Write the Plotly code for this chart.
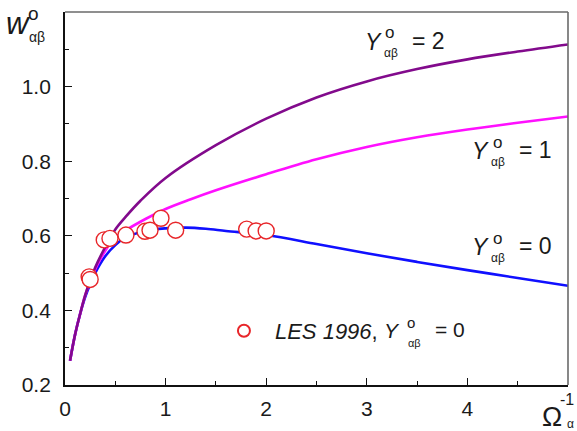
import plotly.graph_objects as go

# Interaction-parameter curves: w°_αβ versus Ω_α^-1 for three values of Y°_αβ
omega_inv_y2 = [0.05, 0.1, 0.15, 0.2, 0.25, 0.3, 0.4, 0.5, 0.6, 0.75, 1.0, 1.5,
                2.0, 2.5, 3.0, 3.5, 4.0, 4.5, 5.0]
w_y2 = [0.265, 0.335, 0.39, 0.44, 0.48, 0.515, 0.57, 0.617, 0.65, 0.694, 0.755,
        0.843, 0.914, 0.971, 1.014, 1.047, 1.073, 1.094, 1.113]

omega_inv_y1 = [0.05, 0.1, 0.15, 0.2, 0.25, 0.3, 0.4, 0.5, 0.6, 0.8, 1.0, 1.25,
                1.5, 2.0, 2.5, 3.0, 3.5, 4.0, 4.5, 5.0]
w_y1 = [0.265, 0.335, 0.39, 0.44, 0.478, 0.51, 0.56, 0.595, 0.614, 0.645, 0.672,
        0.698, 0.722, 0.765, 0.805, 0.838, 0.864, 0.885, 0.903, 0.92]

omega_inv_y0 = [0.05, 0.1, 0.15, 0.2, 0.25, 0.3, 0.4, 0.5, 0.6, 0.8, 1.0, 1.2,
                1.4, 1.6, 2.0, 2.5, 3.0, 3.5, 4.0, 4.5, 5.0]
w_y0 = [0.265, 0.335, 0.39, 0.435, 0.47, 0.5, 0.545, 0.575, 0.595, 0.613, 0.62,
        0.622, 0.619, 0.613, 0.602, 0.578, 0.553, 0.53, 0.508, 0.487, 0.466]

# LES 1996 results (Y°_αβ = 0)
les_x = [0.24, 0.25, 0.39, 0.447, 0.606, 0.795, 0.845, 0.954, 1.10, 1.806, 1.90, 2.0]
les_y = [0.49, 0.483, 0.589, 0.593, 0.602, 0.612, 0.615, 0.647, 0.615, 0.618, 0.613, 0.613]

x_ticks = [0, 1, 2, 3, 4]
y_ticks = [0.2, 0.4, 0.6, 0.8, 1.0]
y_tick_text = ["0.2", "0.4", "0.6", "0.8", "1.0"]

FONT = "Liberation Sans, Arial, sans-serif"

fig = go.Figure()
fig.add_trace(go.Scatter(x=omega_inv_y0, y=w_y0, mode="lines", line_shape="spline",
                         line=dict(color="#1010ff", width=2.6), showlegend=False))
fig.add_trace(go.Scatter(x=omega_inv_y1, y=w_y1, mode="lines", line_shape="spline",
                         line=dict(color="#ff10ff", width=2.6), showlegend=False))
fig.add_trace(go.Scatter(x=omega_inv_y2, y=w_y2, mode="lines", line_shape="spline",
                         line=dict(color="#820a8c", width=2.6), showlegend=False))
fig.add_trace(go.Scatter(x=les_x, y=les_y, mode="markers",
                         name="\u2002<i>LES 1996</i>,",
                         marker=dict(symbol="circle", size=16, color="white",
                                     line=dict(color="#e8262a", width=1.4))))

axis_common = dict(showline=True, linecolor="#111", linewidth=1.8, mirror=False,
                   ticks="inside", ticklen=7, tickwidth=1.3, tickcolor="#111",
                   showgrid=False, zeroline=False,
                   tickfont=dict(family=FONT, size=21, color="#1a1a1a"))

fig.update_xaxes(range=[0, 5], tickvals=x_ticks, ticktext=[str(t) for t in x_ticks],
                 minor=dict(dtick=0.5, ticks="inside", ticklen=4, tickwidth=1.2,
                            tickcolor="#111", showgrid=False),
                 ticklabelstandoff=4, **axis_common)
fig.update_yaxes(range=[0.2, 1.2], tickvals=y_ticks, ticktext=y_tick_text,
                 minor=dict(dtick=0.1, tick0=0.2, ticks="inside", ticklen=4,
                            tickwidth=1.2, tickcolor="#111", showgrid=False),
                 ticklabelstandoff=8, **axis_common)

# top and right frame
fig.add_shape(type="line", xref="x domain", yref="y domain", x0=0, x1=1, y0=1, y1=1,
              line=dict(color="#6a6a6a", width=1.6))
fig.add_shape(type="line", xref="x domain", yref="y domain", x0=1, x1=1, y0=0, y1=1,
              line=dict(color="#6a6a6a", width=1.6))

annotations = []


def txt(x, y, text, size, xanchor="center", ref="data", italic=False):
    if italic:
        text = "<i>" + text + "</i>"
    a = dict(x=x, y=y, text=text, showarrow=False, xanchor=xanchor, yanchor="middle",
             borderpad=0, font=dict(family=FONT, size=size, color="#1a1a1a"))
    if ref == "paper":
        a.update(xref="paper", yref="paper")
    else:
        a.update(xref="x", yref="y")
    annotations.append(a)


def y_label(xc, yc, value):
    # stacked Y°_αβ = n label, anchored on the centre of the italic Y
    txt(xc, yc, "Y", 23, italic=True)
    txt(xc + 0.16, yc + 0.024, "o", 17)
    txt(xc + 0.17, yc - 0.03, "αβ", 12)
    txt(xc + 0.37, yc + 0.003, "= " + value, 23, xanchor="left")


y_label(3.07, 1.12, "2")
y_label(4.135, 0.827, "1")
y_label(4.135, 0.570, "0")

# remainder of the legend entry
txt(3.25, 0.347, "Y", 21, italic=True)
txt(3.44, 0.367, "o", 15)
txt(3.47, 0.312, "αβ", 11)
txt(3.67, 0.349, "= 0", 21, xanchor="left")

# axis titles
txt(-0.0934, 0.968, "w", 31, ref="paper", italic=True)
txt(-0.0636, 0.995, "o", 19, ref="paper")
txt(-0.0557, 0.933, "αβ", 14, ref="paper")
txt(0.969, -0.086, "Ω", 27, ref="paper")
txt(0.999, -0.038, "-1", 16, ref="paper")
txt(1.004, -0.104, "α", 12, ref="paper")

fig.update_layout(
    width=577, height=431,
    margin=dict(l=65, r=9, t=12, b=46),
    paper_bgcolor="white", plot_bgcolor="white",
    font=dict(family=FONT, color="#1a1a1a"),
    annotations=annotations,
    showlegend=True,
    legend=dict(x=0.316, y=0.145, xref="paper", yref="paper",
                xanchor="left", yanchor="middle", bgcolor="rgba(0,0,0,0)",
                itemsizing="constant", itemwidth=30,
                font=dict(family=FONT, size=22, color="#1a1a1a")),
)

fig.write_html("out.html")
